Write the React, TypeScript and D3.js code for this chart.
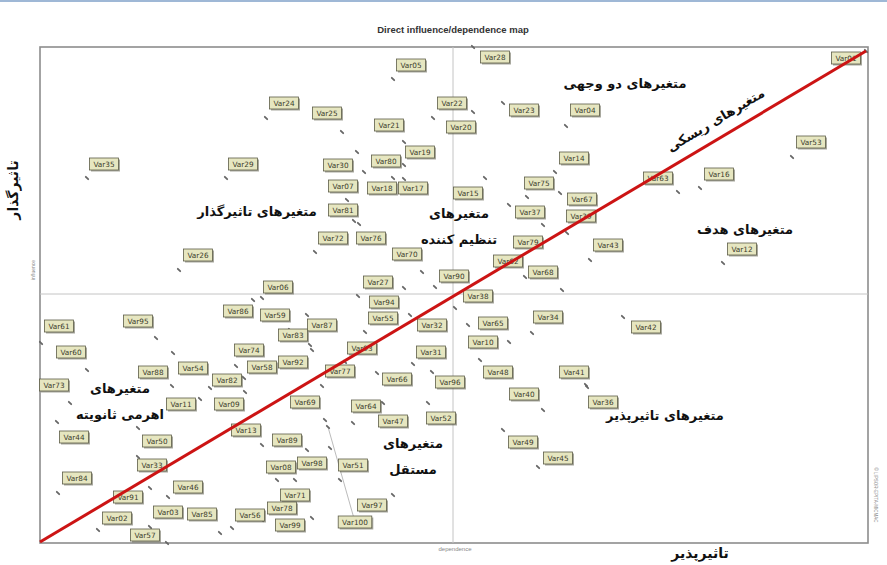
import React from "react";
import * as d3 from "d3";

// ---- data (dependence, influence) ----
const names = ["Var05","Var28","Var01","Var24","Var25","Var22","Var20","Var23","Var04","Var21","Var19","Var35","Var29","Var30","Var80","Var14","Var53","Var07","Var18","Var17","Var15","Var75","Var63","Var16","Var67","Var37","Var39","Var81","Var76","Var72","Var79","Var43","Var12","Var26","Var70","Var62","Var68","Var90","Var27","Var06","Var38","Var94","Var61","Var95","Var86","Var59","Var55","Var65","Var34","Var42","Var87","Var32","Var83","Var10","Var60","Var74","Var92","Var58","Var93","Var31","Var73","Var88","Var11","Var54","Var82","Var09","Var77","Var66","Var48","Var41","Var96","Var69","Var64","Var47","Var52","Var36","Var40","Var44","Var50","Var13","Var89","Var49","Var45","Var84","Var33","Var08","Var98","Var51","Var46","Var91","Var71","Var78","Var97","Var02","Var03","Var85","Var56","Var57","Var100","Var99"];
const dependence = [353,433,826,226,302,393,433,463,526,364,364,47,186,317,324,515,752,307,353,364,445,487,638,660,520,469,527,314,319,275,503,550,683,139,382,485,522,395,364,222,415,318,1,116,213,250,325,428,492,583,267,370,270,469,47,196,272,204,305,373,30,133,132,170,205,160,282,337,440,546,392,285,313,343,388,547,503,17,98,222,267,463,498,18,98,237,290,300,128,110,255,222,353,58,110,180,192,127,288,272];
const influence = [464,496,492,425,411,425,431,440,417,401,378,365,365,391,371,371,386,343,365,364,365,346,351,355,350,338,310,322,319,291,318,283,280,273,271,266,253,256,255,245,235,247,200,205,243,213,211,218,210,226,228,228,198,201,173,177,193,165,181,179,140,190,157,155,151,144,157,170,183,158,171,123,120,140,140,156,133,121,115,98,93,113,76,50,86,63,95,63,46,55,63,23,48,13,16,10,15,0,116,25];
// label placement nudges (pixels from the point)
const labelDx = [18,22,-20,18,-15,19,-12,21,19,-15,16,17,17,-19,22,19,19,-4,-11,9,-17,12,-20,19,22,21,14,-11,12,18,-15,18,19,19,-15,-17,-19,19,-26,16,23,26,18,-18,-15,-15,18,25,16,23,15,22,-17,-26,-16,13,-19,18,17,18,-16,-20,9,-17,-18,29,18,20,18,-12,18,-20,13,10,13,16,-19,17,19,-16,-20,20,20,19,14,4,-18,13,20,-22,0,20,-21,19,18,-18,18,-22,27,-22];
const labelDy = [-14,10,7,-15,-19,-15,15,7,-16,-17,-13,-14,-14,13,-11,-14,-15,-14,10,9,15,-14,-14,-14,6,7,-17,-11,14,-14,17,-15,-14,-15,-18,-16,-18,-11,-6,-11,-12,6,-17,-17,11,-15,-14,-2,-16,10,10,10,-10,0,-18,-16,12,-11,-14,-12,-18,19,18,-20,-12,5,-15,6,12,-13,10,-18,-17,18,15,15,-16,15,13,-15,-10,12,-9,-15,8,-13,15,-15,-10,9,15,-12,10,-12,-15,-19,-13,-8,95,7];

const title = "Direct influence/dependence map";
const quadrantTexts = [
  { lines: ["متغیرهای دو وجهی"], dep: 585, inf: 455 },
  { lines: ["متغیرهای تاثیرگذار"], dep: 217, inf: 327 },
  { lines: ["متغیرهای", "تنظیم کننده"], dep: 419, inf: 325 },
  { lines: ["متغیرهای هدف"], dep: 705, inf: 309 },
  { lines: ["متغیرهای", "اهرمی ثانویته"], dep: 80, inf: 150 },
  { lines: ["متغیرهای", "مستقل"], dep: 373, inf: 95 },
  { lines: ["متغیرهای تاثیرپذیر"], dep: 625, inf: 123 },
];
const riskText = "متغیرهای ریسکی";

const W = 887, H = 565;
const L = 40, R = 868, T = 47, B = 543;

export default function App() {
  const x = d3.scaleLinear().domain([0, 828]).range([L, R]);
  const y = d3.scaleLinear().domain([0, 496]).range([B, T]);
  const depMid = 413, infMid = 249;
  const diag = d3.line<[number, number]>().x(d => x(d[0])).y(d => y(d[1]));
  const diagPts: [number, number][] = [[0, 1], [826, 492]];
  const ang = (Math.atan2(y(0) - y(492), x(826) - x(0)) * 180) / Math.PI;
  const pts = names.map((n, i) => ({ n, px: x(dependence[i]), py: y(influence[i]), dx: labelDx[i], dy: labelDy[i] }));
  return (
    <svg width={W} height={H} style={{ position: "absolute", left: 0, top: 0, background: "#fff" }} fontFamily="'Liberation Sans', Arial, sans-serif">
      <rect x={0} y={0} width={W} height={H} fill="#fff" />
      <line x1={0} x2={W} y1={1} y2={1} stroke="#9fb8d6" strokeWidth={2} />
      <text x={453} y={33} textAnchor="middle" fontSize={9.5} fontWeight="bold" fill="#333">{title}</text>
      {/* plot frame */}
      <rect x={L} y={T} width={R - L} height={B - T} fill="#fff" stroke="#8d8d8d" strokeWidth={1.6} />
      <line x1={x(depMid)} x2={x(depMid)} y1={T} y2={B} stroke="#c4c4c4" strokeWidth={1} />
      <line x1={L} x2={R} y1={y(infMid)} y2={y(infMid)} stroke="#c4c4c4" strokeWidth={1} />
      {/* leader lines */}
      {pts.filter(p => Math.hypot(p.dx, p.dy) > 40).map(p => (
        <line key={"ll" + p.n} x1={p.px} y1={p.py} x2={p.px + p.dx} y2={p.py + p.dy} stroke="#aaa" strokeWidth={0.8} />
      ))}
      {/* points */}
      {pts.map(p => (
        <g key={"p" + p.n}>
          <line x1={p.px - 1.2} y1={p.py - 1.2} x2={p.px + 1.2} y2={p.py + 1.2} stroke="#666" strokeWidth={1.8} strokeLinecap="round" />
        </g>
      ))}
      {/* labels */}
      {pts.map(p => {
        const w = p.n.length * 4.6 + 6;
        const h = 12;
        const cx = p.px + p.dx, cy = p.py + p.dy;
        return (
          <g key={"l" + p.n}>
            <rect x={cx - w / 2 + 1.5} y={cy - h / 2 + 1.5} width={w} height={h} fill="#6e6e5e" opacity={0.6} />
            <rect x={cx - w / 2} y={cy - h / 2} width={w} height={h} fill="#e6e6c0" stroke="#5d5d48" strokeWidth={0.8} />
            <text x={cx} y={cy + 2.6} textAnchor="middle" fontSize={7.3} fill="#3c3c2c" fontFamily="'DejaVu Sans', sans-serif">{p.n}</text>
          </g>
        );
      })}
      {/* diagonal */}
      <path d={diag(diagPts) || ""} stroke="#cc1414" strokeWidth={3} fill="none" />
      {/* quadrant captions */}
      {quadrantTexts.map((q, i) => (
        <text key={"q" + i} x={x(q.dep)} y={y(q.inf)} textAnchor="middle" fontSize={13} fontWeight="bold" fill="#111" fontFamily="'DejaVu Sans', sans-serif" direction="rtl">
          {q.lines.map((ln, j) => (
            <tspan key={j} x={x(q.dep)} dy={j === 0 ? 0 : 26}>{ln}</tspan>
          ))}
        </text>
      ))}
      <text transform={`translate(718,124) rotate(${-ang})`} textAnchor="middle" fontSize={13} fontWeight="bold" fill="#111" fontFamily="'DejaVu Sans', sans-serif" direction="rtl">{riskText}</text>
      {/* axis captions */}
      <text transform="translate(18,190) rotate(-90)" textAnchor="middle" fontSize={14} fontWeight="bold" fill="#111" fontFamily="'DejaVu Sans', sans-serif" direction="rtl">تاثیرگذار</text>
      <text transform="translate(35,270) rotate(-90)" textAnchor="middle" fontSize={5} fill="#888">influence</text>
      <text x={455} y={551} textAnchor="middle" fontSize={6} fill="#888">dependence</text>
      <text x={700} y={558} textAnchor="middle" fontSize={14} fontWeight="bold" fill="#111" fontFamily="'DejaVu Sans', sans-serif" direction="rtl">تاثیرپذیر</text>
      <text transform="translate(874,495) rotate(90)" textAnchor="middle" fontSize={4.5} fill="#888">© LIPSOR-EPITA-MICMAC</text>
    </svg>
  );
}
